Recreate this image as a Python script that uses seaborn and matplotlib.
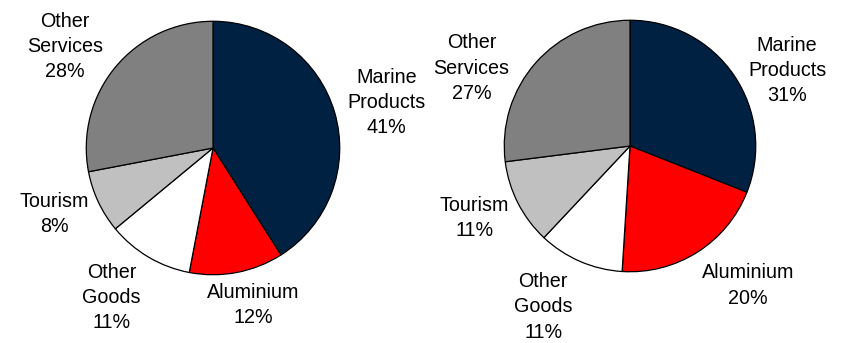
import matplotlib
matplotlib.use("Agg")
import matplotlib.pyplot as plt
import seaborn as sns

sns.set_style("white")
plt.rcParams["font.family"] = ["Liberation Sans", "DejaVu Sans"]

# Export shares by category, two periods
categories = ["Marine\nProducts", "Aluminium", "Other\nGoods", "Tourism", "Other\nServices"]
shares_left = [41, 12, 11, 8, 28]
shares_right = [31, 20, 11, 11, 27]

colors = ["#002141", "#FF0000", "#FFFFFF", "#C0C0C0", "#808080"]

# label anchor points, in units of the pie radius
label_pos_left = [(1.37, 0.36), (0.32, -1.24), (-0.80, -1.18), (-1.25, -0.52), (-1.17, 0.80)]
label_pos_right = [(1.25, 0.60), (0.94, -1.11), (-0.69, -1.28), (-1.24, -0.57), (-1.26, 0.62)]

W, H = 841, 343
fig = plt.figure(figsize=(W / 100, H / 100), dpi=100)


def draw_pie(cx, cy, r, shares, label_pos):
    ax = fig.add_axes([(cx - r) / W, (H - cy - r) / H, 2 * r / W, 2 * r / H])
    ax.pie(shares, colors=colors, startangle=90, counterclock=False,
           radius=1.0, wedgeprops=dict(edgecolor="black", linewidth=0.9))
    ax.set_xlim(-1.01, 1.01)
    ax.set_ylim(-1.01, 1.01)
    ax.set_aspect("equal")
    ax.axis("off")
    for name, val, (x, y) in zip(categories, shares, label_pos):
        ax.text(x, y, f"{name}\n{val}%", ha="center", va="center",
                fontsize=14.2, linespacing=1.42, color="black", clip_on=False)


draw_pie(213, 148, 128, shares_left, label_pos_left)
draw_pie(630, 146, 127, shares_right, label_pos_right)

fig.savefig("out.png", dpi=100, facecolor="white")
